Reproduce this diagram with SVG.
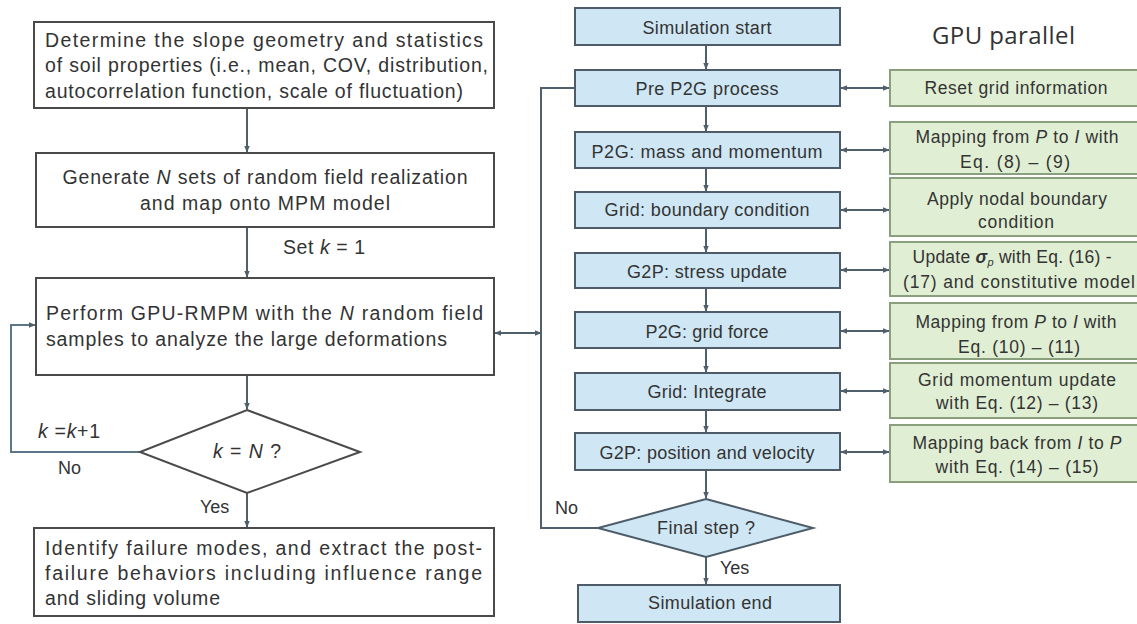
<svg xmlns="http://www.w3.org/2000/svg" width="1137" height="624" viewBox="0 0 1137 624">
<defs>
<style>
.t{font-family:"Liberation Sans",Arial,sans-serif;fill:#333333}
.lb{font-size:19.5px}
.bl{font-size:18px;text-anchor:middle}
.gr{font-size:17.5px;text-anchor:middle}
.wb{fill:#ffffff;stroke:#4a4a4a;stroke-width:2}
.bb{fill:#cfe7f4;stroke:#4d5c68;stroke-width:2}
.gb{fill:#e0efd3;stroke:#8aa07c;stroke-width:2}
.c{fill:none;stroke:#4f5f6b;stroke-width:2}
</style>
<marker id="ah" viewBox="0 0 10 10" refX="9" refY="5" markerWidth="7" markerHeight="7" markerUnits="userSpaceOnUse" orient="auto-start-reverse">
<path d="M0,1 L10,5 L0,9 z" fill="#4f5f6b"/>
</marker>
</defs>
<rect width="1137" height="624" fill="#ffffff"/>

<g id="connectors">
<line class="c" x1="247" y1="108" x2="247" y2="152" marker-end="url(#ah)"/>
<line class="c" x1="247" y1="227" x2="247" y2="277" marker-end="url(#ah)"/>
<line class="c" x1="247" y1="375" x2="247" y2="409" marker-end="url(#ah)"/>
<line class="c" x1="247" y1="493" x2="247" y2="527" marker-end="url(#ah)"/>
<polyline class="c" points="140,452 11,452 11,325 35,325" marker-end="url(#ah)" style="stroke:#5b7688"/>
<line class="c" x1="495" y1="333" x2="541" y2="333" marker-start="url(#ah)" marker-end="url(#ah)"/>
<line class="c" x1="706" y1="45" x2="706" y2="69" marker-end="url(#ah)"/>
<line class="c" x1="706" y1="106" x2="706" y2="131" marker-end="url(#ah)"/>
<line class="c" x1="706" y1="168" x2="706" y2="191" marker-end="url(#ah)"/>
<line class="c" x1="706" y1="228" x2="706" y2="252" marker-end="url(#ah)"/>
<line class="c" x1="706" y1="288" x2="706" y2="311" marker-end="url(#ah)"/>
<line class="c" x1="706" y1="348" x2="706" y2="372" marker-end="url(#ah)"/>
<line class="c" x1="706" y1="410" x2="706" y2="432" marker-end="url(#ah)"/>
<line class="c" x1="706" y1="470" x2="706" y2="498" marker-end="url(#ah)"/>
<line class="c" x1="706" y1="557" x2="706" y2="584" marker-end="url(#ah)"/>
<polyline class="c" points="598,528 541,528 541,88 575,88"/>
<line class="c" x1="841" y1="88" x2="889" y2="88" marker-start="url(#ah)" marker-end="url(#ah)"/>
<line class="c" x1="841" y1="150" x2="889" y2="150" marker-start="url(#ah)" marker-end="url(#ah)"/>
<line class="c" x1="841" y1="210" x2="889" y2="210" marker-start="url(#ah)" marker-end="url(#ah)"/>
<line class="c" x1="841" y1="270" x2="889" y2="270" marker-start="url(#ah)" marker-end="url(#ah)"/>
<line class="c" x1="841" y1="331" x2="889" y2="331" marker-start="url(#ah)" marker-end="url(#ah)"/>
<line class="c" x1="841" y1="391" x2="889" y2="391" marker-start="url(#ah)" marker-end="url(#ah)"/>
<line class="c" x1="841" y1="452" x2="889" y2="452" marker-start="url(#ah)" marker-end="url(#ah)"/>
</g>

<g id="labels">
<text class="t lb" x="283" y="254" textLength="82">Set <tspan font-style="italic">k</tspan> = 1</text>
<text class="t lb" x="38" y="438" textLength="62"><tspan font-style="italic">k</tspan> =<tspan font-style="italic">k</tspan>+1</text>
<text class="t" x="58" y="474" font-size="18">No</text>
<text class="t" x="200" y="513" font-size="18">Yes</text>
<text class="t" x="555" y="514" font-size="18">No</text>
<text class="t" x="720" y="574" font-size="18">Yes</text>
<text x="932" y="44" textLength="143" style="font-family:'Open Sans','Noto Sans',sans-serif;font-size:24px;fill:#333">GPU parallel</text>
</g>

<g id="n1">
<rect class="wb" x="34" y="22" width="460" height="86"/>
<text class="t lb" x="45" y="47" textLength="438" lengthAdjust="spacing">Determine the slope geometry and statistics</text>
<text class="t lb" x="45" y="72" textLength="443" lengthAdjust="spacing">of soil properties (i.e., mean, COV, distribution,</text>
<text class="t lb" x="45" y="98" textLength="418" lengthAdjust="spacing">autocorrelation function, scale of fluctuation)</text>
</g>
<g id="n2">
<rect class="wb" x="36" y="153" width="458" height="74"/>
<text class="t lb" x="265" y="184" text-anchor="middle" textLength="405">Generate <tspan font-style="italic">N</tspan> sets of random field realization</text>
<text class="t lb" x="265" y="210" text-anchor="middle" textLength="250">and map onto MPM model</text>
</g>
<g id="n3">
<rect class="wb" x="36" y="278" width="458" height="97"/>
<text class="t lb" x="46" y="320" textLength="437" lengthAdjust="spacing">Perform GPU-RMPM with the <tspan font-style="italic">N</tspan> random field</text>
<text class="t lb" x="46" y="346" textLength="401" lengthAdjust="spacing">samples to analyze the large deformations</text>
</g>
<g id="n4">
<polygon class="wb" points="247,410 360,452 247,493 140,452"/>
<text class="t lb" x="247" y="458" text-anchor="middle" textLength="68"><tspan font-style="italic">k</tspan> = <tspan font-style="italic">N</tspan> ?</text>
</g>
<g id="n5">
<rect class="wb" x="34" y="528" width="460" height="88"/>
<text class="t lb" x="45" y="555" textLength="437" lengthAdjust="spacing">Identify failure modes, and extract the post-</text>
<text class="t lb" x="45" y="580" textLength="437" lengthAdjust="spacing">failure behaviors including influence range</text>
<text class="t lb" x="45" y="605" textLength="175" lengthAdjust="spacing">and sliding volume</text>
</g>

<g id="b1"><rect class="bb" x="575" y="8" width="265" height="37"/><text class="t bl" x="707" y="34" textLength="129">Simulation start</text></g>
<g id="b2"><rect class="bb" x="575" y="70" width="265" height="36"/><text class="t bl" x="707" y="95" textLength="143">Pre P2G process</text></g>
<g id="b3"><rect class="bb" x="575" y="132" width="265" height="36"/><text class="t bl" x="707" y="158" textLength="231">P2G: mass and momentum</text></g>
<g id="b4"><rect class="bb" x="575" y="192" width="265" height="36"/><text class="t bl" x="707" y="216" textLength="205">Grid: boundary condition</text></g>
<g id="b5"><rect class="bb" x="575" y="253" width="265" height="35"/><text class="t bl" x="707" y="278" textLength="160">G2P: stress update</text></g>
<g id="b6"><rect class="bb" x="575" y="312" width="265" height="36"/><text class="t bl" x="707" y="338" textLength="123">P2G: grid force</text></g>
<g id="b7"><rect class="bb" x="575" y="373" width="265" height="37"/><text class="t bl" x="707" y="398" textLength="119">Grid: Integrate</text></g>
<g id="b8"><rect class="bb" x="575" y="433" width="265" height="37"/><text class="t bl" x="707" y="459" textLength="215">G2P: position and velocity</text></g>
<g id="b9"><polygon class="bb" points="706,499 813,528 706,557 598,528"/><text class="t bl" x="706" y="534" textLength="98">Final step ?</text></g>
<g id="b10"><rect class="bb" x="578" y="585" width="262" height="37"/><text class="t bl" x="710" y="609" textLength="124">Simulation end</text></g>

<g id="g1"><rect class="gb" x="890" y="70" width="255" height="36"/><text class="t gr" x="1016" y="94" textLength="183">Reset grid information</text></g>
<g id="g2"><rect class="gb" x="890" y="122" width="255" height="52"/><text class="t gr" x="1017" y="143" textLength="203">Mapping from <tspan font-style="italic">P</tspan> to <tspan font-style="italic">I</tspan> with</text><text class="t gr" x="1015" y="168" textLength="110">Eq. (8) – (9)</text></g>
<g id="g3"><rect class="gb" x="890" y="178" width="255" height="58"/><text class="t gr" x="1017" y="205" textLength="180">Apply nodal boundary</text><text class="t gr" x="1016" y="228" textLength="76">condition</text></g>
<g id="g4"><rect class="gb" x="890" y="242" width="255" height="54"/><text class="t gr" x="1012" y="263" textLength="199">Update <tspan font-weight="bold" font-style="italic">σ</tspan><tspan font-style="italic" font-size="11px" dy="3">p</tspan><tspan dy="-3"> with Eq. (16) -</tspan></text><text class="t gr" x="1019" y="288" textLength="232">(17) and constitutive model</text></g>
<g id="g5"><rect class="gb" x="890" y="303" width="255" height="56"/><text class="t gr" x="1016" y="328" textLength="201">Mapping from <tspan font-style="italic">P</tspan> to <tspan font-style="italic">I</tspan> with</text><text class="t gr" x="1019" y="353" textLength="122">Eq. (10) – (11)</text></g>
<g id="g6"><rect class="gb" x="890" y="363" width="255" height="55"/><text class="t gr" x="1017" y="386" textLength="198">Grid momentum update</text><text class="t gr" x="1017" y="409" textLength="162">with Eq. (12) – (13)</text></g>
<g id="g7"><rect class="gb" x="890" y="425" width="255" height="57"/><text class="t gr" x="1017" y="449" textLength="209">Mapping back from <tspan font-style="italic">I</tspan> to <tspan font-style="italic">P</tspan></text><text class="t gr" x="1017" y="473" textLength="163">with Eq. (14) – (15)</text></g>
</svg>
